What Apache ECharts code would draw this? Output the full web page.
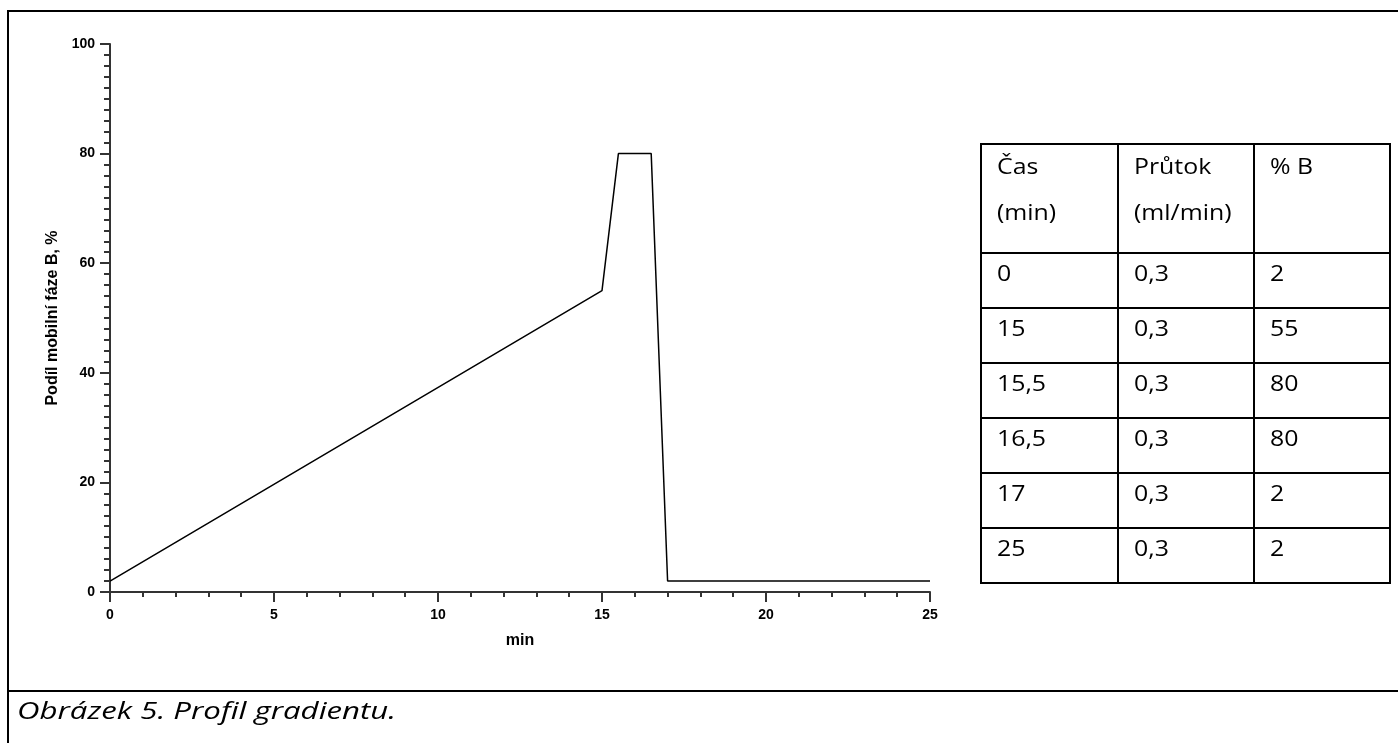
<!DOCTYPE html>
<html>
<head>
<meta charset="utf-8">
<script src="https://cdn.jsdelivr.net/npm/echarts@6/dist/echarts.min.js"></script>
<style>
  html, body { margin: 0; padding: 0; background: #fff; }
  #wrap { position: relative; width: 1398px; height: 743px; overflow: hidden; }
  #chart { position: absolute; left: 0; top: 0; width: 1398px; height: 743px; }
  .frame { position: absolute; left: 7px; top: 10px; width: 1400px; height: 800px;
           border-top: 2px solid #000; border-left: 2px solid #000; }
  .sep { position: absolute; left: 7px; top: 690px; width: 1400px; height: 0; border-top: 2px solid #000; }
  .caption { position: absolute; left: 17px; top: 693px; font-family: "Open Sans", sans-serif;
             font-style: italic; font-size: 24px; color: #000; white-space: nowrap;
             transform: scaleX(1.3); transform-origin: left center; }
  table.grad { position: absolute; left: 980px; top: 143px; border-collapse: collapse;
               font-family: "Open Sans", sans-serif; font-size: 22px; color: #000; }
  table.grad td { border: 2px solid #000; padding: 0 0 0 15px; vertical-align: top;
                  box-sizing: border-box; }
  table.grad td div { transform: scaleX(1.13); transform-origin: left center; white-space: nowrap; }
  table.grad tr.head td div { line-height: 46px; margin-top: -3px; }
  table.grad tr.row td div { line-height: 36px; }
</style>
</head>
<body>
<div id="wrap">
  <div class="frame"></div>
  <div class="sep"></div>
  <div id="chart"></div>
  <table class="grad" id="tbl"></table>
  <div class="caption">Obrázek 5. Profil gradientu.</div>
</div>
<script>
// gradient program
const headers = [['Čas', '(min)'], ['Průtok', '(ml/min)'], ['% B', '']];
const timeLabels = ['0', '15', '15,5', '16,5', '17', '25'];
const times = [0, 15, 15.5, 16.5, 17, 25];
const flowLabels = ['0,3', '0,3', '0,3', '0,3', '0,3', '0,3'];
const pctB = [2, 55, 80, 80, 2, 2];

const xTicks = { min: 0, max: 25, interval: 5 };
const yTicks = { min: 0, max: 100, interval: 20 };

// table
const colW = [137, 136, 136];
const tbl = document.getElementById('tbl');
let html = '<tr class="head" style="height:109px">';
headers.forEach((h, i) => {
  html += `<td style="width:${colW[i]}px"><div>${h[0]}<br>${h[1] || '&nbsp;'}</div></td>`;
});
html += '</tr>';
times.forEach((t, i) => {
  html += `<tr class="row" style="height:55px"><td><div>${timeLabels[i]}</div></td>` +
          `<td><div>${flowLabels[i]}</div></td><td><div>${pctB[i]}</div></td></tr>`;
});
tbl.innerHTML = html;

const chart = echarts.init(document.getElementById('chart'));
const axisColor = '#333';
const tickFont = { color: '#000', fontFamily: 'Liberation Sans, Arial', fontWeight: 'bold', fontSize: 14 };
const nameFont = { color: '#000', fontFamily: 'Liberation Sans, Arial', fontWeight: 'bold', fontSize: 16 };

chart.setOption({
  animation: false,
  grid: { left: 110, right: 468, top: 44, bottom: 151 },
  xAxis: {
    type: 'value',
    min: xTicks.min, max: xTicks.max, interval: xTicks.interval,
    name: 'min',
    nameLocation: 'middle',
    nameGap: 41,
    nameTextStyle: nameFont,
    axisLine: { lineStyle: { color: axisColor, width: 2 } },
    axisTick: { length: 10, lineStyle: { color: axisColor, width: 2 } },
    minorTick: { show: true, splitNumber: 5, length: 5, lineStyle: { color: axisColor, width: 2 } },
    axisLabel: Object.assign({ margin: 16 }, tickFont),
    splitLine: { show: false }
  },
  yAxis: {
    type: 'value',
    min: yTicks.min, max: yTicks.max, interval: yTicks.interval,
    name: 'Podíl mobilní fáze B, %',
    nameLocation: 'middle',
    nameRotate: 90,
    nameGap: 49,
    nameTextStyle: nameFont,
    axisLine: { show: true, lineStyle: { color: axisColor, width: 2 } },
    axisTick: { show: true, length: 10, lineStyle: { color: axisColor, width: 2 } },
    minorTick: { show: true, splitNumber: 10, length: 6, lineStyle: { color: axisColor, width: 2 } },
    axisLabel: Object.assign({ margin: 15 }, tickFont),
    splitLine: { show: false }
  },
  series: [{
    type: 'line',
    data: times.map((t, i) => [t, pctB[i]]),
    showSymbol: false,
    lineStyle: { color: '#000', width: 1.5 },
    silent: true
  }]
});
</script>
</body>
</html>
